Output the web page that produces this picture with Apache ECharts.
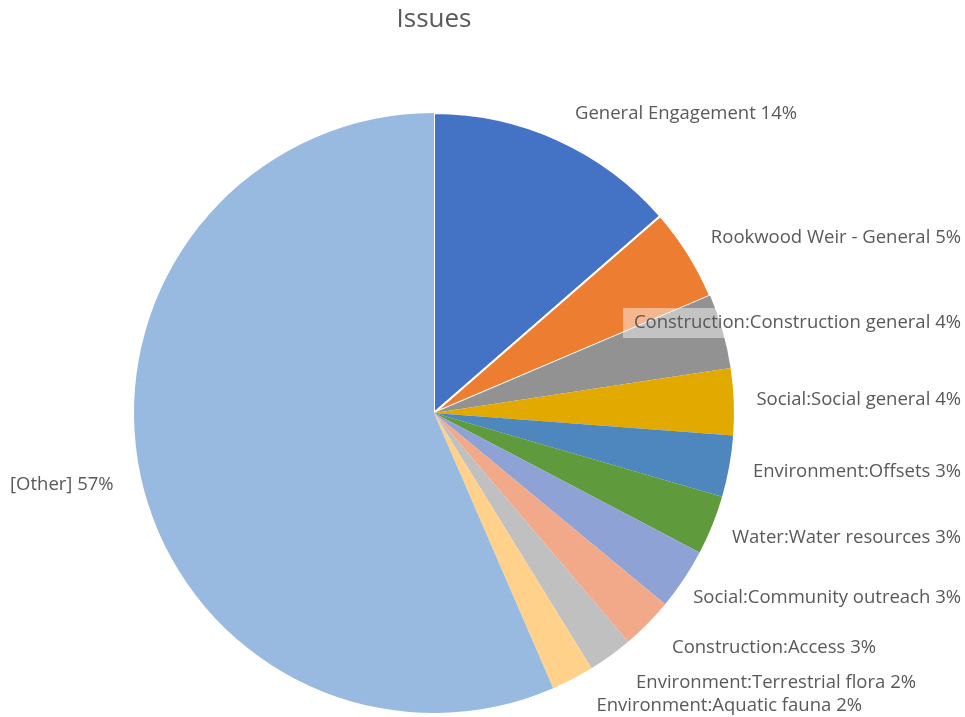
<!DOCTYPE html>
<html>
<head>
<meta charset="utf-8">
<script src="https://cdn.jsdelivr.net/npm/echarts@6/dist/echarts.min.js"></script>
<style>html,body{margin:0;padding:0;background:#fff}#c{width:965px;height:717px}</style>
</head>
<body>
<div id="c"></div>
<script>
const categories = [
  "General Engagement",
  "Rookwood Weir - General",
  "Construction:Construction general",
  "Social:Social general",
  "Environment:Offsets",
  "Water:Water resources",
  "Social:Community outreach",
  "Construction:Access",
  "Environment:Terrestrial flora",
  "Environment:Aquatic fauna",
  "[Other]"
];
const shares = [13.6, 5.0, 4.0, 3.6, 3.3, 3.2, 3.3, 2.8, 2.4, 2.3, 56.5];
const colors = ["#4472C4", "#ED7D31", "#929292", "#E2AA00", "#4E87BD", "#5F9A3D",
                "#8FA2D5", "#F1A98A", "#C0C0C0", "#FFD18A", "#98B9E0"];
// label anchor layout (style only): [x, y, align]
const labelAnchors = [
  [797, 114, "right"], [961, 238, "right"], [961, 323, "right"], [961, 400, "right"],
  [961, 472, "right"], [961, 538, "right"], [961, 598, "right"], [876, 648, "right"],
  [916, 683, "right"], [862, 706, "right"], [10, 485, "left"]
];

const chart = echarts.init(document.getElementById('c'), null, {renderer: 'canvas'});
const data = categories.map((n, i) => ({
  name: n, value: shares[i],
  itemStyle: i < 2 ? {color: colors[i], borderColor: '#fff', borderWidth: 2} : {color: colors[i]},
  label: i === 2 ? {backgroundColor: 'rgba(255,255,255,0.45)', padding: [6, 0, 5, 9]} : {}
}));
chart.setOption({
  animation: false,
  title: {
    text: 'Issues', left: 429, top: 2, textAlign: 'center',
    textStyle: {fontFamily: 'Open Sans', fontSize: 26, fontWeight: 'normal', color: '#595959'}
  },
  series: [{
    type: 'pie',
    center: [434, 413],
    radius: 300,
    startAngle: 90,
    clockwise: true,
    data: data,
    label: {
      show: true,
      position: 'outside',
      overflow: 'none',
      formatter: p => p.name + ' ' + Math.round(p.percent) + '%',
      fontFamily: 'Open Sans', fontSize: 18.5, color: '#595959'
    },
    labelLine: {show: false},
    labelLayout: p => {
      const a = labelAnchors[p.dataIndex];
      const o = {x: a[0], y: a[1], align: a[2], verticalAlign: 'middle'};
      if (p.dataIndex === 2) o.width = 329;
      return o;
    },
    emphasis: {disabled: true}
  }]
});
</script>
</body>
</html>
